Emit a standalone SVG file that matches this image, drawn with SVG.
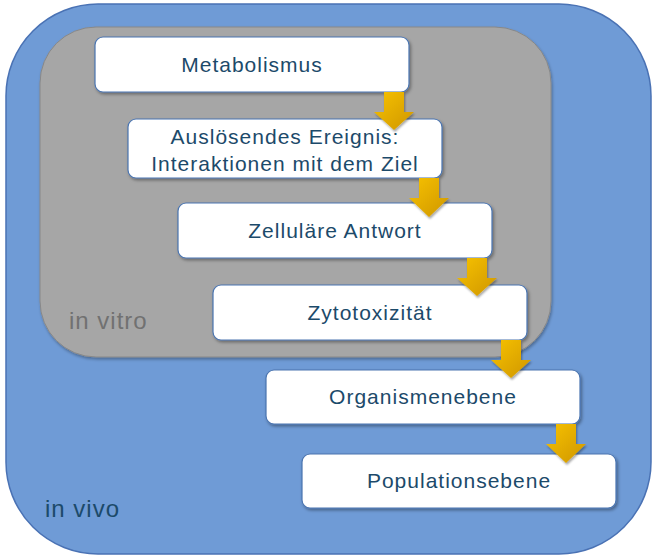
<svg xmlns="http://www.w3.org/2000/svg" width="654" height="556" viewBox="0 0 654 556">
<defs>
<style>
.box{fill:#ffffff;stroke:#4a74b0;stroke-width:1.2;filter:url(#sh)}
.lbl{font-family:"Liberation Sans",Arial,sans-serif;font-size:21px;fill:#1c4a6a;text-anchor:middle;letter-spacing:1px}
.arr{fill:url(#gold);filter:url(#ash)}
.zone{font-family:"Liberation Sans",Arial,sans-serif;font-size:24px;letter-spacing:1px}
</style>
<linearGradient id="gold" x1="0" y1="0" x2="1" y2="1">
<stop offset="0" stop-color="#f7c200"/>
<stop offset="1" stop-color="#cf9600"/>
</linearGradient>
<filter id="sh" x="-10%" y="-20%" width="120%" height="150%">
<feDropShadow dx="1.5" dy="2" stdDeviation="1.5" flood-color="#000" flood-opacity="0.35"/>
</filter>
<filter id="ash" x="-30%" y="-20%" width="160%" height="150%">
<feDropShadow dx="1" dy="2" stdDeviation="1.2" flood-color="#000" flood-opacity="0.35"/>
</filter>
<filter id="gsh" x="-5%" y="-5%" width="110%" height="110%">
<feDropShadow dx="1" dy="2" stdDeviation="1.5" flood-color="#000" flood-opacity="0.3"/>
</filter>
</defs>
<g id="invivo">
<rect x="6" y="4" width="645" height="550" rx="92" ry="92" fill="#6f9bd6" stroke="#4a72b4" stroke-width="1.5"/>
<text class="zone" x="45" y="517" fill="#1c4a6a">in vivo</text>
</g>
<g id="invitro">
<rect x="40" y="27" width="511" height="330" rx="56" ry="56" fill="#a6a6a6" stroke="#888888" stroke-width="1" filter="url(#gsh)"/>
<text class="zone" x="69" y="329" fill="#717171">in vitro</text>
</g>
<g id="n1"><rect class="box" x="95" y="37" width="314" height="55" rx="8"/><text class="lbl" x="252" y="72">Metabolismus</text></g>
<g id="n2"><rect class="box" x="128" y="119" width="314" height="59" rx="8"/><text class="lbl" x="285" y="144">Auslösendes Ereignis:</text><text class="lbl" x="285" y="171">Interaktionen mit dem Ziel</text></g>
<g id="n3"><rect class="box" x="178" y="203" width="314" height="55" rx="8"/><text class="lbl" x="335" y="238">Zelluläre Antwort</text></g>
<g id="n4"><rect class="box" x="213" y="285" width="314" height="55" rx="8"/><text class="lbl" x="370" y="320">Zytotoxizität</text></g>
<g id="n5"><rect class="box" x="266" y="370" width="314" height="54" rx="8"/><text class="lbl" x="423" y="404">Organismenebene</text></g>
<g id="n6"><rect class="box" x="302" y="454" width="314" height="54" rx="8"/><text class="lbl" x="459" y="488">Populationsebene</text></g>
<g id="connectors">
<path class="arr" d="M384 92 H404 V112 H414 L394 130 L374 112 H384 Z"/>
<path class="arr" d="M419 178 H439 V198 H449 L429 217 L409 198 H419 Z"/>
<path class="arr" d="M467 258 H487 V278 H497 L477 296 L457 278 H467 Z"/>
<path class="arr" d="M501 340 H521 V360 H531 L511 378 L491 360 H501 Z"/>
<path class="arr" d="M556 424 H576 V444 H586 L566 463 L546 444 H556 Z"/>
</g>
</svg>
